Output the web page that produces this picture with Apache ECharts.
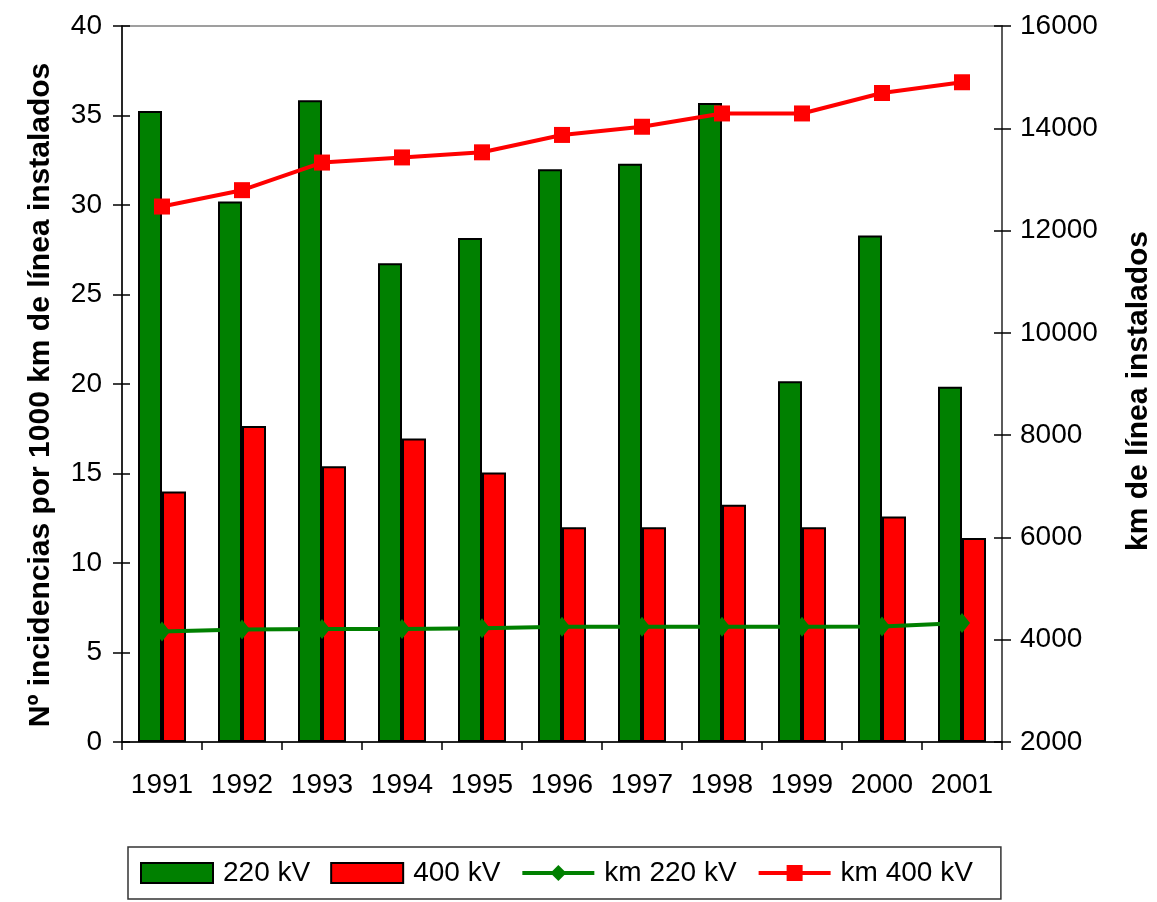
<!DOCTYPE html>
<html>
<head>
<meta charset="utf-8">
<script src="https://cdn.jsdelivr.net/npm/echarts@6/dist/echarts.min.js"></script>
<style>
  html, body { margin: 0; padding: 0; background: #fff; }
  #chart { width: 1157px; height: 902px; }
</style>
</head>
<body>
<div id="chart"></div>
<script>
// datos
var years = ['1991', '1992', '1993', '1994', '1995', '1996', '1997', '1998', '1999', '2000', '2001'];
var inc220 = [35.25, 30.2, 35.85, 26.75, 28.15, 32.0, 32.3, 35.7, 20.15, 28.3, 19.85];
var inc400 = [14.0, 17.65, 15.4, 16.95, 15.05, 12.0, 12.0, 13.25, 12.0, 12.6, 11.4];
var km220 = [4160, 4200, 4210, 4210, 4225, 4255, 4255, 4255, 4255, 4260, 4325];
var km400 = [12470, 12790, 13330, 13430, 13530, 13870, 14030, 14290, 14290, 14690, 14900];

var FONT = "'Liberation Sans', Arial, sans-serif";
var GREEN = '#008000';
var RED = '#ff0000';

var myChart = echarts.init(document.getElementById('chart'));

var option = {
  animation: false,
  textStyle: { fontFamily: FONT, color: '#000' },
  grid: {
    left: 122, right: 155, top: 26, bottom: 160,
    outerBoundsMode: 'none',
    show: true, borderColor: '#808080', borderWidth: 1.5
  },
  legend: {
    left: 128, top: 847,
    padding: [12, 28, 12, 12],
    borderColor: '#333', borderWidth: 1.5,
    itemWidth: 72, itemHeight: 20, itemGap: 20,
    lineStyle: { width: 4 },
    textStyle: { fontFamily: FONT, fontSize: 28, color: '#000', padding: [0, 0, 0, 5] },
    data: [
      { name: '220 kV', icon: 'rect' },
      { name: '400 kV', icon: 'rect' },
      'km 220 kV',
      'km 400 kV'
    ]
  },
  xAxis: {
    type: 'category',
    data: years,
    axisLine: { lineStyle: { color: '#000', width: 1.5 } },
    axisTick: { show: true, length: 8, lineStyle: { color: '#000', width: 1.5 } },
    axisLabel: { fontSize: 28, color: '#000', margin: 29, interval: 0, fontFamily: FONT },
    splitLine: { show: false }
  },
  yAxis: [
    {
      type: 'value', position: 'left', min: 0, max: 40, interval: 5,
      name: 'Nº incidencias por 1000 km de línea instalados',
      nameLocation: 'middle', nameGap: 66,
      nameTextStyle: {
        fontSize: 30, fontWeight: 'bold', color: '#000', fontFamily: FONT,
        padding: [0, 22, 0, 0]
      },
      axisLine: { show: true, lineStyle: { color: '#000', width: 1.5 } },
      axisTick: { show: true, length: 9, lineStyle: { color: '#000', width: 1.5 } },
      axisLabel: { fontSize: 28, color: '#000', margin: 20, fontFamily: FONT },
      splitLine: { show: false }
    },
    {
      type: 'value', position: 'right', min: 2000, max: 16000, interval: 2000,
      name: 'km de línea instalados',
      nameLocation: 'middle', nameGap: 122,
      nameTextStyle: {
        fontSize: 30, fontWeight: 'bold', color: '#000', fontFamily: FONT,
        padding: [0, 14, 0, 0]
      },
      axisLine: { show: true, lineStyle: { color: '#444', width: 1.5 } },
      axisTick: { show: true, length: 9, lineStyle: { color: '#000', width: 1.5 } },
      axisLabel: {
        fontSize: 28, color: '#000', margin: 18, fontFamily: FONT,
        formatter: function (v) { return String(v); }
      },
      splitLine: { show: false }
    },
    // marcas interiores (las marcas cruzan el eje)
    {
      type: 'value', position: 'left', min: 0, max: 40, interval: 5,
      axisLine: { show: false },
      axisTick: { show: true, inside: true, length: 8, lineStyle: { color: '#000', width: 1.5 } },
      axisLabel: { show: false },
      splitLine: { show: false }
    },
    {
      type: 'value', position: 'right', min: 2000, max: 16000, interval: 2000,
      axisLine: { show: false },
      axisTick: { show: true, inside: true, length: 8, lineStyle: { color: '#000', width: 1.5 } },
      axisLabel: { show: false },
      splitLine: { show: false }
    }
  ],
  series: [
    {
      name: '220 kV', type: 'bar', yAxisIndex: 0, data: inc220,
      barWidth: 24, barGap: '0%',
      itemStyle: { color: GREEN, borderColor: '#000', borderWidth: 2 }
    },
    {
      name: '400 kV', type: 'bar', yAxisIndex: 0, data: inc400,
      barWidth: 24, barGap: '0%',
      itemStyle: { color: RED, borderColor: '#000', borderWidth: 2 }
    },
    {
      name: 'km 220 kV', type: 'line', yAxisIndex: 1, data: km220,
      symbol: 'diamond', symbolSize: [16, 20],
      lineStyle: { color: GREEN, width: 4 },
      itemStyle: { color: GREEN },
      z: 5
    },
    {
      name: 'km 400 kV', type: 'line', yAxisIndex: 1, data: km400,
      symbol: 'rect', symbolSize: 16,
      lineStyle: { color: RED, width: 4 },
      itemStyle: { color: RED },
      z: 5
    }
  ]
};

myChart.setOption(option);
</script>
</body>
</html>
